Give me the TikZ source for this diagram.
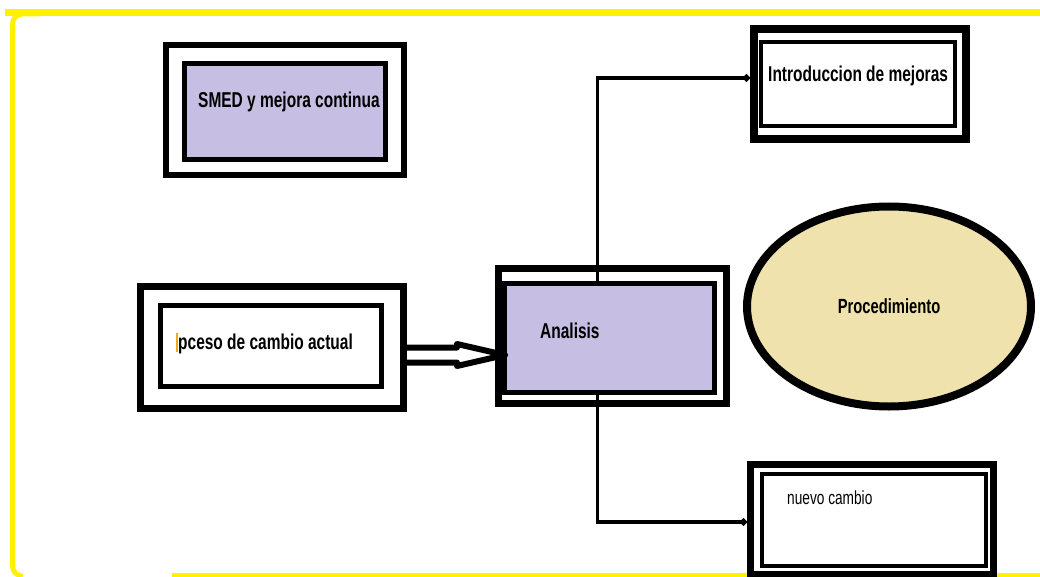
\documentclass[tikz,border=0pt]{standalone}
\usepackage{fontspec}
\setmainfont{Liberation Sans}
\newfontfamily\narrowfont[FakeStretch=0.72]{Liberation Sans}
\usepackage{tikz}
\usetikzlibrary{positioning}
\usetikzlibrary{shapes.geometric}
\usetikzlibrary{arrows.meta}
\usetikzlibrary{calc}
\definecolor{frameyellow}{RGB}{255,242,0}
\definecolor{boxlilac}{RGB}{198,191,227}
\definecolor{ovalsand}{RGB}{239,226,172}
\definecolor{cursororange}{RGB}{240,170,20}

\begin{document}
\begin{tikzpicture}[x=1pt,y=-1pt]
			\tikzstyle{OuterBox} = [draw, rectangle, line width=7pt, inner sep=0pt]
			\tikzstyle{InnerBox} = [draw, rectangle, line width=5pt, inner sep=0pt, fill=white]
			\tikzstyle{BoxText}  = [inner sep=0pt, anchor=base west, font=\narrowfont\bfseries\fontsize{21.5}{25}\selectfont]
			\tikzstyle{Frame}    = [draw=frameyellow, line width=6pt]
			\tikzstyle{Link}     = [line width=3.5pt, -{Circle[length=7pt]}]
			\useasboundingbox (0,0) rectangle (1040,577);
			% marco amarillo
			\draw[Frame, line width=7pt] (5,13) -- (1040,13);
			\draw[Frame, line width=5pt, rounded corners=10pt] (40,14) -- (12.5,14) -- (12.5,576) -- (22,576);
			\draw[Frame, line width=5pt] (172,575) -- (1040,575);
			% cajas
			\node[OuterBox, line width=6pt, minimum width=238pt, minimum height=130pt] (smed) at (285,110) {};
			\node[InnerBox, fill=boxlilac, minimum width=201pt, minimum height=96pt] (smedin) at (285,111.5) {};
			\node[OuterBox, minimum width=263pt, minimum height=122pt] (proc) at (272,347.5) {};
			\node[InnerBox, minimum width=221pt, minimum height=81pt] (procin) at (271,346) {};
			\node[OuterBox, minimum width=228pt, minimum height=135pt] (ana) at (612.5,336) {};
			\node[InnerBox, fill=boxlilac, minimum width=210pt, minimum height=109pt] (anain) at (609.5,338) {};
			\node[OuterBox, line width=8pt, minimum width=212pt, minimum height=110pt] (intro) at (860,84) {};
			\node[InnerBox, line width=4pt, minimum width=194pt, minimum height=84pt] (introin) at (858,84) {};
			\node[OuterBox, minimum width=243pt, minimum height=110pt] (nuevo) at (872,519) {};
			\node[InnerBox, line width=4pt, minimum width=224pt, minimum height=92pt] (nuevoin) at (874,520) {};
			\node[ellipse, draw, line width=8pt, fill=ovalsand, inner sep=0pt, minimum width=284pt, minimum height=200pt,
				font=\narrowfont\bfseries\fontsize{20.5}{24}\selectfont] (proced) at (889,306.5) {Procedimiento};
			% textos
			\node[BoxText] (smedlbl) at ($(smedin.west)+(16,-3.5)$) {SMED y mejora continua};
			\node[BoxText] (proclbl) at ($(procin.west)+(20,3)$) {pceso de cambio actual};
			\node[BoxText] (analbl) at ($(anain.west)+(38,0)$) {Analisis};
			\node[BoxText] (introlbl) at ($(introin.west)+(9,-2)$) {Introduccion de mejoras};
			\node[BoxText, font=\narrowfont\fontsize{19}{23}\selectfont] (nuevolbl) at ($(nuevoin.west)+(27,-16)$) {nuevo cambio};
			\draw[draw=cursororange, line width=1.5pt] ($(procin.west)+(19,-13)$) -- ++(0,19);
			% conectores
			\draw[line width=6pt, line join=round] (proc.east) -- ++(50,0) -- ++(0,-3.5) -- ($(anain.west)+(3,17)$)
				-- ($(proc.east)+(50,18.5)$) -- ++(0,-3.5) -- ++(-50,0);
			\draw[Link] ($(anain.north)+(-12,0)$) |- ($(intro.west)+(0,-6)$);
			\draw[Link] ($(anain.south)+(-12,0)$) |- ($(nuevo.west)+(0,3)$);
		\end{tikzpicture}
\end{document}
